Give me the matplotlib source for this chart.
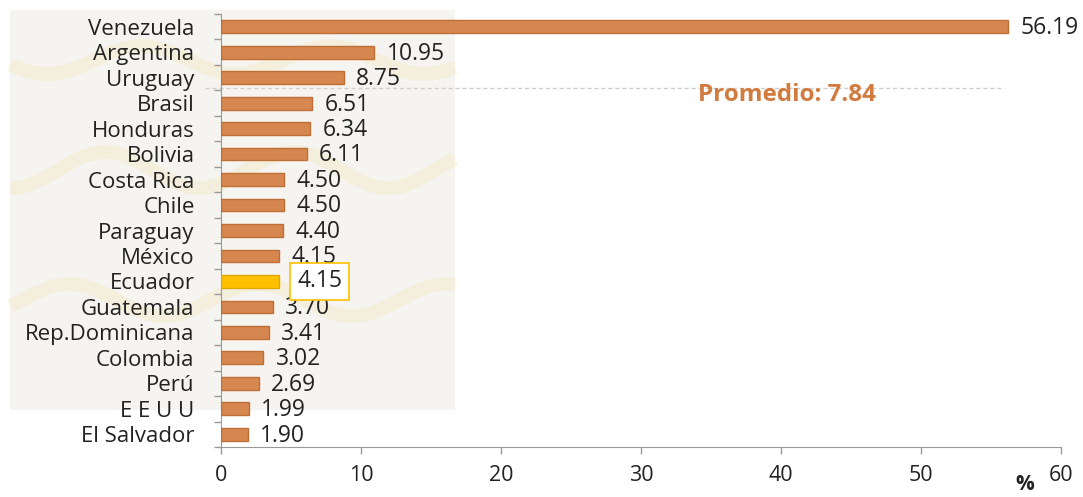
import matplotlib.pyplot as plt
import matplotlib.patches as mpatches
import numpy as np

plt.rcParams['font.family'] = ['Open Sans', 'DejaVu Sans']

paises = ['Venezuela', 'Argentina', 'Uruguay', 'Brasil', 'Honduras', 'Bolivia',
          'Costa Rica', 'Chile', 'Paraguay', 'México', 'Ecuador', 'Guatemala',
          'Rep.Dominicana', 'Colombia', 'Perú', 'E E U U', 'El Salvador']
inflacion = [56.19, 10.95, 8.75, 6.51, 6.34, 6.11, 4.50, 4.50, 4.40, 4.15,
             4.15, 3.70, 3.41, 3.02, 2.69, 1.99, 1.90]
promedio = 7.84
destacado = 'Ecuador'
xticks = [0, 10, 20, 30, 40, 50, 60]

naranja = '#D5874F'
borde = '#BF6E36'
amarillo = '#FFC000'

W, H = 1083, 497
fig = plt.figure(figsize=(W / 100, H / 100), dpi=100)

# faint decorative panel behind the category labels
bg = fig.add_axes([0, 0, 1, 1], zorder=0)
bg.set_xlim(0, W)
bg.set_ylim(H, 0)
bg.axis('off')
bg.add_patch(mpatches.Rectangle((10, 10), 445, 400, facecolor='#f5f4f0',
                                edgecolor='none'))
t = np.linspace(10, 455, 300)
for y0, amp, ph in [(60, 14, 0.0), (170, 18, 1.2), (300, 16, 2.4)]:
    bg.plot(t, y0 + amp * np.sin(t / 30 + ph), color='#f3e6b8', lw=10,
            alpha=0.35, solid_capstyle='butt')

ax = fig.add_axes([221 / W, 50 / H, 840 / W, 433 / H], zorder=1)
ax.patch.set_alpha(0)

y = np.arange(len(paises))
colores = [amarillo if p == destacado else naranja for p in paises]
bordes = ['#E0A800' if p == destacado else borde for p in paises]
ax.barh(y, inflacion, height=0.5, color=colores, edgecolor=bordes, linewidth=1,
        zorder=3)

for yi, v, p in zip(y, inflacion, paises):
    if p == destacado:
        ax.annotate(f'{v:.2f}', (v, yi), xytext=(13, 0), textcoords='offset points',
                    va='center', ha='left', fontsize=16.5, color='#222222', zorder=6,
                    bbox=dict(boxstyle='square,pad=0.3', fc='white',
                              ec=amarillo, lw=1.2))
    else:
        ax.annotate(f'{v:.2f}', (v, yi), xytext=(9, -1), textcoords='offset points',
                    va='center', ha='left', fontsize=16.5, color='#222222', zorder=4)

# average reference line
ax.plot([-1.14, 55.9], [2.39, 2.39], ls=(0, (3, 2)), color='#cfcfcf', lw=1,
        clip_on=False, zorder=2)
ax.text(40.4, 2.67, f'Promedio: {promedio:.2f}', color='#D27B3E', fontsize=17.5,
        fontweight='bold', ha='center', va='center', zorder=4)

ax.set_ylim(len(paises) - 0.5, -0.5)
ax.set_xlim(0, 60)
ax.set_yticks(y)
ax.set_yticklabels(paises, fontsize=16, color='#222222')
ax.set_yticks(np.arange(len(paises) + 1) - 0.5, minor=True)
ax.tick_params(axis='y', which='major', length=0, pad=19)
ax.tick_params(axis='y', which='minor', length=5, color='#999999', width=1)
ax.set_xticks(xticks)
ax.set_xticklabels([str(v) for v in xticks], fontsize=15.5, color='#222222')
ax.tick_params(axis='x', length=5, color='#999999', width=1, pad=8)

for s in ['top', 'right']:
    ax.spines[s].set_visible(False)
for s in ['left', 'bottom']:
    ax.spines[s].set_color('#999999')

fig.text(1025 / W, 1 - 485 / H, '%', fontsize=15, fontweight='bold',
         ha='center', va='center', color='#222222')

fig.savefig('out.png', dpi=100)
